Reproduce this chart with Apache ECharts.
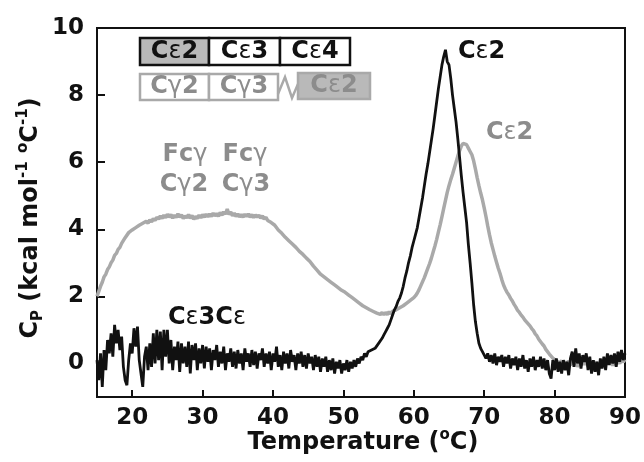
<!DOCTYPE html>
<html>
<head>
<meta charset="utf-8">
<script src="https://cdn.jsdelivr.net/npm/echarts@6/dist/echarts.min.js"></script>
<style>
  html, body { margin: 0; padding: 0; background: #fff; }
  #chart { width: 644px; height: 462px; }
</style>
</head>
<body>
<div id="chart"></div>
<script>
// Excess heat capacity scans, sampled every 0.25 °C from 15 to 90 °C
const T_START = 15;
const T_STEP = 0.25;

// Fcε (black trace), one row per degree
const fcEpsilon = [
  0.1, -0.5, 0.3, -0.7,
  0.4, -0.2, 0.7, 0.3,
  0.9, 0.2, 1.15, 0.6,
  1.0, 0.4, 0.8, -0.1,
  -0.5, -0.65, 0.1, 0.6,
  0.3, 1.05, 0.5, 1.1,
  0.1, -0.3, -0.7, 0.2,
  0.5, -0.2, 0.6, -0.1,
  0.9, 0.0, 1.0, 0.1,
  0.95, -0.2, 1.0, 0.2,
  1.0, 0.0, 0.7, -0.2,
  0.5, 0.1, 0.65, -0.25,
  0.6, 0.0, 0.5, -0.1,
  0.65, -0.3, 0.55, 0.1,
  0.6, -0.2, 0.45, 0.0,
  0.55, -0.15, 0.5, 0.05,
  0.45, -0.2, 0.4, 0.1,
  0.55, -0.1, 0.35, 0.0,
  0.5, -0.2, 0.3, 0.05,
  0.45, -0.1, 0.35, -0.15,
  0.4, 0.0, 0.3, -0.2,
  0.45, 0.05, 0.3, -0.1,
  0.4, -0.05, 0.35, -0.15,
  0.3, 0.1, 0.45, -0.1,
  0.3, 0.0, 0.35, -0.2,
  0.3, 0.05, 0.5, -0.1,
  0.25, -0.2, 0.35, 0.0,
  0.3, -0.15, 0.4, 0.05,
  0.25, -0.2, 0.3, 0.0,
  0.35, -0.1, 0.25, -0.15,
  0.3, 0.0, 0.2, -0.2,
  0.25, -0.1, 0.2, -0.25,
  0.15, -0.1, 0.2, -0.25,
  0.1, -0.2, 0.15, -0.3,
  0.05, -0.15, 0.1, -0.3,
  0.0, -0.2, 0.1, -0.25,
  0.05, -0.15, 0.1, -0.1,
  0.15, 0.0, 0.2, 0.1,
  0.3, 0.2, 0.35, 0.3,
  0.4, 0.35, 0.45, 0.5,
  0.6, 0.65, 0.75, 0.85,
  0.95, 1.05, 1.15, 1.3,
  1.45, 1.6, 1.7, 1.85,
  1.95, 2.1, 2.3, 2.55,
  2.75, 3.0, 3.2, 3.45,
  3.65, 3.85, 4.05, 4.35,
  4.65, 4.95, 5.3, 5.65,
  5.95, 6.3, 6.65, 7.0,
  7.4, 7.8, 8.2, 8.55,
  8.9, 9.15, 9.35, 9.0,
  8.9, 8.5, 8.0, 7.6,
  7.2, 6.7, 6.15, 5.6,
  5.1, 4.65, 4.2, 3.55,
  3.0, 2.4, 1.75, 1.25,
  0.9, 0.6, 0.45, 0.35,
  0.3, 0.15, 0.3, 0.05,
  0.25, 0.0, 0.3, -0.05,
  0.2, 0.05, 0.25, -0.1,
  0.2, 0.0, 0.25, -0.15,
  0.15, -0.05, 0.2, -0.2,
  0.15, -0.1, 0.25, -0.15,
  0.1, -0.25, 0.15, -0.1,
  0.2, -0.2, 0.1, -0.1,
  0.2, -0.15, 0.15, -0.2,
  0.1, -0.3, -0.45, 0.1,
  -0.2, 0.15, -0.25, 0.05,
  -0.3, 0.1, -0.2, 0.05,
  -0.35, 0.15, 0.35, -0.1,
  0.45, 0.0, 0.3, -0.15,
  0.25, 0.05, 0.3, -0.2,
  0.2, -0.3, 0.1, -0.25,
  0.05, -0.35, 0.15, -0.15,
  0.2, -0.2, 0.3, -0.05,
  0.25, 0.0, 0.3, -0.1,
  0.35, 0.05, 0.4, 0.1,
  0.3
];

// Fcγ–Cε2 chimera (grey trace), one row per degree
const fcGammaChimera = [
  2.00, 2.15, 2.30, 2.42,
  2.58, 2.66, 2.80, 2.88,
  3.00, 3.08, 3.22, 3.28,
  3.40, 3.46, 3.58, 3.62,
  3.75, 3.78, 3.90, 3.88,
  3.98, 3.95, 4.05, 4.02,
  4.12, 4.08, 4.18, 4.14,
  4.24, 4.18, 4.28, 4.22,
  4.32, 4.26, 4.36, 4.30,
  4.40, 4.32, 4.42, 4.34,
  4.45, 4.36, 4.44, 4.33,
  4.42, 4.35, 4.46, 4.36,
  4.43, 4.32, 4.40, 4.34,
  4.44, 4.33, 4.41, 4.30,
  4.38, 4.32, 4.42, 4.34,
  4.44, 4.36, 4.45, 4.37,
  4.46, 4.38, 4.48, 4.40,
  4.47, 4.39, 4.50, 4.42,
  4.52, 4.45, 4.60, 4.44,
  4.52, 4.40, 4.48, 4.38,
  4.46, 4.37, 4.44, 4.36,
  4.45, 4.38, 4.46, 4.36,
  4.44, 4.35, 4.43, 4.36,
  4.42, 4.33, 4.40, 4.30,
  4.36, 4.26, 4.30, 4.20,
  4.22, 4.12, 4.10, 3.98,
  3.98, 3.88, 3.86, 3.76,
  3.76, 3.66, 3.64, 3.56,
  3.54, 3.46, 3.44, 3.34,
  3.34, 3.25, 3.24, 3.14,
  3.12, 3.04, 3.00, 2.90,
  2.88, 2.78, 2.76, 2.66,
  2.66, 2.58, 2.58, 2.50,
  2.50, 2.42, 2.42, 2.34,
  2.34, 2.26, 2.26, 2.18,
  2.20, 2.12, 2.12, 2.04,
  2.04, 1.96, 1.96, 1.88,
  1.88, 1.80, 1.82, 1.72,
  1.74, 1.66, 1.68, 1.60,
  1.62, 1.55, 1.58, 1.50,
  1.54, 1.46, 1.52, 1.45,
  1.52, 1.46, 1.54, 1.48,
  1.56, 1.52, 1.60, 1.58,
  1.66, 1.66, 1.72, 1.74,
  1.80, 1.82, 1.88, 1.92,
  1.96, 2.02, 2.10, 2.20,
  2.32, 2.44, 2.56, 2.70,
  2.84, 2.98, 3.14, 3.32,
  3.50, 3.70, 3.92, 4.14,
  4.38, 4.62, 4.86, 5.10,
  5.30, 5.48, 5.64, 5.82,
  6.00, 6.18, 6.34, 6.48,
  6.56, 6.58, 6.52, 6.42,
  6.32, 6.22, 6.04, 5.80,
  5.54, 5.30, 5.08, 4.88,
  4.64, 4.38, 4.10, 3.84,
  3.60, 3.40, 3.20, 3.02,
  2.84, 2.68, 2.50, 2.34,
  2.22, 2.12, 2.04, 1.94,
  1.86, 1.76, 1.68, 1.58,
  1.52, 1.44, 1.38, 1.30,
  1.28, 1.18, 1.12, 1.04,
  0.98, 0.88, 0.82, 0.72,
  0.68, 0.58, 0.52, 0.42,
  0.38, 0.28, 0.24, 0.16,
  0.16, 0.08, 0.10, 0.02,
  0.08, -0.02, 0.06, -0.04,
  0.08, -0.06, 0.10, -0.02,
  0.06, -0.10, 0.04, -0.06,
  0.08, -0.04, 0.06, -0.08,
  0.02, -0.06, 0.08, -0.04,
  0.04, -0.10, 0.02, -0.06,
  0.06, -0.04, 0.08, -0.02,
  0.06, -0.06, 0.04, -0.04,
  0.08, 0.00, 0.10, 0.04,
  0.12
];

const xTicks = [20, 30, 40, 50, 60, 70, 80, 90];
const yTicks = [0, 2, 4, 6, 8, 10];

const FONT = 'DejaVu Sans';
const BLACK = '#111111';
const GREY_LINE = '#a9a9a9';
const GREY_TEXT = '#8c8c8c';
const GREY_FILL = '#b9b9b9';

const toPairs = vals => vals.map((v, i) => [T_START + i * T_STEP, v]);

// rich text styles: plain bold, superscript, subscript, Greek letter
function richStyles(color, size) {
  return {
    b: { fontFamily: FONT, fontWeight: 'bold', fontSize: size, lineHeight: size + 6, fill: color, color: color },
    g: { fontFamily: FONT, fontWeight: 'normal', fontSize: size, lineHeight: size + 6, fill: color, color: color },
    sup: { fontFamily: FONT, fontWeight: 'bold', fontSize: Math.round(size * 0.62), lineHeight: Math.round(size * 0.62), verticalAlign: 'top', fill: color, color: color },
    sub: { fontFamily: FONT, fontWeight: 'bold', fontSize: Math.round(size * 0.62), lineHeight: Math.round(size * 0.62), verticalAlign: 'bottom', fill: color, color: color }
  };
}

function label(text, x, y, color, size, align) {
  return {
    type: 'text', x: x, y: y, z: 100,
    style: { text: text, rich: richStyles(color, size), align: align || 'center', verticalAlign: 'middle' }
  };
}

function box(x, y, w, h, fill, stroke) {
  return {
    type: 'rect', z: 90,
    shape: { x: x, y: y, width: w, height: h },
    style: { fill: fill, stroke: stroke, lineWidth: 2.5 }
  };
}

const chart = echarts.init(document.getElementById('chart'), null, { renderer: 'canvas' });

chart.setOption({
  animation: false,
  backgroundColor: '#ffffff',
  grid: {
    left: 97, right: 19, top: 28, bottom: 65,
    show: true, borderColor: BLACK, borderWidth: 2, backgroundColor: 'transparent'
  },
  xAxis: {
    type: 'value', min: 15, max: 90,
    axisLine: { show: true, onZero: false, lineStyle: { color: BLACK, width: 2 } },
    axisTick: { show: true, inside: true, length: 7, customValues: xTicks, lineStyle: { color: BLACK, width: 2 } },
    axisLabel: { customValues: xTicks, margin: 10, fontFamily: FONT, fontWeight: 'bold', fontSize: 23, color: BLACK },
    splitLine: { show: false }
  },
  yAxis: {
    type: 'value', min: -1, max: 10,
    axisLine: { show: true, onZero: false, lineStyle: { color: BLACK, width: 2 } },
    axisTick: { show: true, inside: true, length: 8, customValues: yTicks, lineStyle: { color: BLACK, width: 2 } },
    axisLabel: { customValues: yTicks, margin: 13, fontFamily: FONT, fontWeight: 'bold', fontSize: 23, color: BLACK },
    splitLine: { show: false }
  },
  series: [
    {
      name: 'Fcγ–Cε2', type: 'line', data: toPairs(fcGammaChimera),
      showSymbol: false, symbol: 'none', z: 2,
      lineStyle: { color: GREY_LINE, width: 3.5 }
    },
    {
      name: 'Fcε', type: 'line', data: toPairs(fcEpsilon),
      showSymbol: false, symbol: 'none', z: 3,
      lineStyle: { color: BLACK, width: 2.8 }
    }
  ],
  graphic: [
    // axis titles
    label('{b|Temperature (}{sup|o}{b|C)}', 363, 443, BLACK, 24),
    {
      type: 'text', x: 31, y: 218, rotation: Math.PI / 2, z: 100,
      style: {
        text: '{b|C}{sub|P}{b| (kcal mol}{sup|-1}{b| }{sup|o}{b|C}{sup|-1}{b|)}',
        rich: richStyles(BLACK, 24), align: 'center', verticalAlign: 'middle'
      }
    },
    // domain diagram: Fcε
    box(140, 38, 69, 27, GREY_FILL, BLACK),
    box(209, 38, 71, 27, '#ffffff', BLACK),
    box(280, 38, 70, 27, '#ffffff', BLACK),
    label('{b|C}{g|ε}{b|2}', 174.5, 52, BLACK, 24),
    label('{b|C}{g|ε}{b|3}', 244.5, 52, BLACK, 24),
    label('{b|C}{g|ε}{b|4}', 315, 52, BLACK, 24),
    // domain diagram: Fcγ with Cε2 swapped in
    box(140, 74, 69, 26, '#ffffff', GREY_LINE),
    box(209, 74, 69, 26, '#ffffff', GREY_LINE),
    {
      type: 'polyline', z: 90,
      shape: { points: [[278, 94], [285, 77], [292, 98], [298, 84]] },
      style: { fill: null, stroke: GREY_LINE, lineWidth: 2.5 }
    },
    box(298, 73, 72, 26, GREY_FILL, GREY_LINE),
    label('{b|C}{g|γ}{b|2}', 174.5, 87, GREY_TEXT, 24),
    label('{b|C}{g|γ}{b|3}', 244, 87, GREY_TEXT, 24),
    label('{b|C}{g|ε}{b|2}', 334, 86, GREY_TEXT, 24),
    // curve annotations
    label('{b|C}{g|ε}{b|2}', 458, 52, BLACK, 24, 'left'),
    label('{b|C}{g|ε}{b|2}', 486, 133, GREY_TEXT, 24, 'left'),
    label('{b|C}{g|ε}{b|3C}{g|ε}', 168, 318, BLACK, 24, 'left'),
    label('{b|Fc}{g|γ}', 185, 155, GREY_TEXT, 24),
    label('{b|Fc}{g|γ}', 245, 155, GREY_TEXT, 24),
    label('{b|C}{g|γ}{b|2}', 184, 185, GREY_TEXT, 24),
    label('{b|C}{g|γ}{b|3}', 246, 185, GREY_TEXT, 24)
  ]
});
</script>
</body>
</html>
